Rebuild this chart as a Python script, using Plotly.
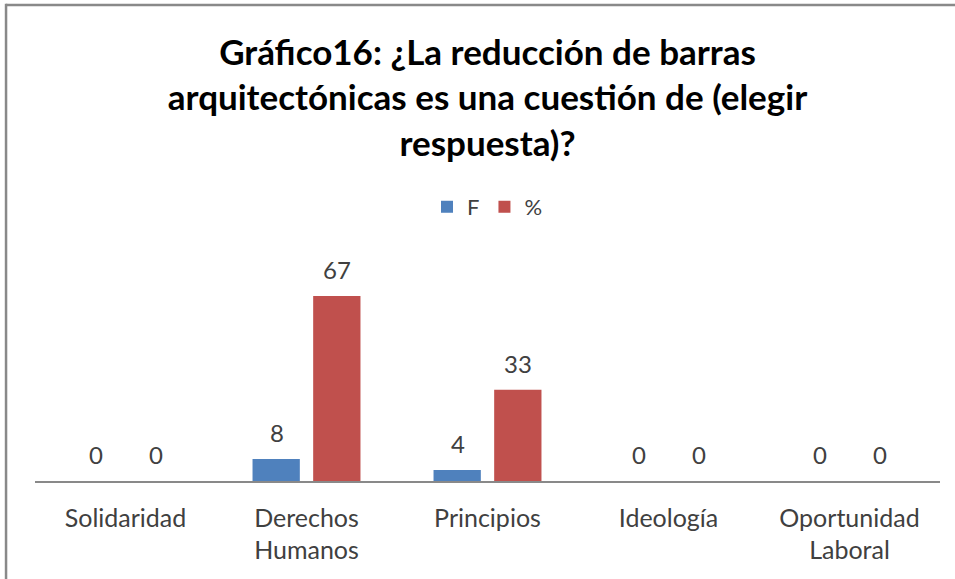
import plotly.graph_objects as go

categories = ["Solidaridad", "Derechos<br>Humanos", "Principios", "Ideología", "Oportunidad<br>Laboral"]
series_names = ["F", "%"]
f_values = [0, 8, 4, 0, 0]
pct_values = [0, 67, 33, 0, 0]
title_lines = [
    "Gráfico16: ¿La reducción de barras",
    "arquitectónicas es una cuestión de (elegir",
    "respuesta)?",
]

BLUE = "#4F81BD"
RED = "#C0504D"
TEXT = "#404040"
FONT = "Lato, 'Open Sans', sans-serif"

fig = go.Figure()
fig.add_trace(go.Bar(name=series_names[0], x=categories, y=f_values,
                     marker=dict(color=BLUE, line=dict(width=0))))
fig.add_trace(go.Bar(name=series_names[1], x=categories, y=pct_values,
                     marker=dict(color=RED, line=dict(width=0))))

# data labels above each bar
annotations = []
for vals, shift in ((f_values, -30), (pct_values, 30)):
    for c, v in zip(categories, vals):
        annotations.append(dict(x=c, y=v, xref="x", yref="y", text=str(v),
                                showarrow=False, xshift=shift, yshift=10,
                                yanchor="bottom",
                                font=dict(family=FONT, size=24, color=TEXT)))

fig.update_layout(
    width=955, height=579,
    paper_bgcolor="white", plot_bgcolor="white",
    margin=dict(l=35, r=15, t=260, b=98),
    barmode="group", bargap=0.33, bargroupgap=0.22,
    font=dict(family=FONT, color=TEXT),
    title=dict(text="<br>".join(title_lines), x=0.5, xref="paper", xanchor="center",
               y=0.888, yref="container", yanchor="middle",
               font=dict(family=FONT, size=35, color="#000000", weight="bold")),
    legend=dict(orientation="h", x=0.5, xanchor="center", y=1.24, yanchor="middle",
                font=dict(family=FONT, size=22, color=TEXT), itemwidth=30,
                bgcolor="rgba(0,0,0,0)"),
    xaxis=dict(showline=True, linecolor="#898989", linewidth=1.5, showgrid=False,
               ticks="", tickfont=dict(family=FONT, size=25, color=TEXT),
               ticklabelstandoff=14, fixedrange=True),
    yaxis=dict(range=[0, 80], visible=False, showgrid=False, zeroline=False),
    annotations=annotations,
    shapes=[
        dict(type="line", xref="paper", yref="paper", x0=-0.032, x1=1.05,
             y0=2.154, y1=2.154, line=dict(color="#898989", width=2.5)),
        dict(type="line", xref="paper", yref="paper", x0=-0.032, x1=-0.032,
             y0=2.16, y1=-0.6, line=dict(color="#898989", width=2.5)),
    ],
    showlegend=True,
)

fig.write_html("out.html", config={"displayModeBar": False},
               post_script="document.body.style.margin='0';")
